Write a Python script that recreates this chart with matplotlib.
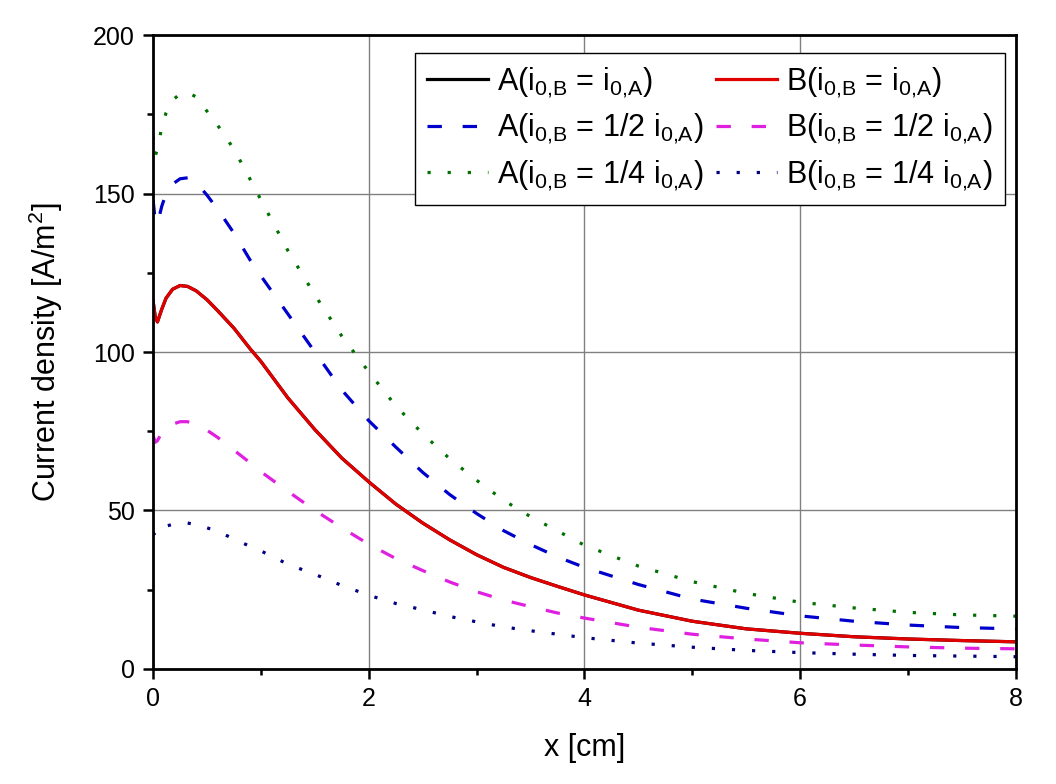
import matplotlib
matplotlib.use("Agg")
import matplotlib.pyplot as plt
from matplotlib.ticker import MultipleLocator

plt.rcParams["font.family"] = ["Liberation Sans", "DejaVu Sans"]
plt.rcParams["mathtext.fontset"] = "custom"
plt.rcParams["mathtext.rm"] = "Liberation Sans"
plt.rcParams["mathtext.it"] = "Liberation Sans"
plt.rcParams["mathtext.default"] = "regular"

# x positions [cm]
x = [0, 0.02, 0.04, 0.08, 0.12, 0.18, 0.25, 0.32, 0.4, 0.5, 0.6, 0.75, 0.9, 1.0,
     1.25, 1.5, 1.75, 2.0, 2.25, 2.5, 2.75, 3.0, 3.25, 3.5, 3.75, 4.0,
     4.5, 5.0, 5.5, 6.0, 6.5, 7.0, 7.5, 8.0]

# current density [A/m2]
b_equal = [116, 111, 109.5, 113.5, 117, 119.8, 121, 120.7, 119.3, 116.5, 113, 107.5, 101, 97,
           85.5, 75.5, 66.5, 59, 52, 46, 40.7, 36, 32, 28.8, 26, 23.3,
           18.5, 15, 12.6, 11.2, 10.1, 9.4, 8.9, 8.5]
a_equal = list(b_equal)  # hidden under the B curve in the original
a_half = [148, 141, 140.5, 146, 150, 153, 154.7, 155, 153.5, 149.5, 145, 137.5, 129, 124,
          112, 100, 88, 78.3, 70, 62, 55, 49, 43.6, 39.2, 35.3, 32,
          26.6, 22, 19.1, 16.7, 15, 13.8, 13, 12.6]
b_half = [73.5, 71.5, 72, 74.5, 76, 77.2, 78, 78, 77, 75.3, 73, 69, 65, 62.2,
          56, 50, 44.5, 39.3, 34.8, 31, 27.4, 24.3, 21.7, 19.6, 17.6, 16,
          13.1, 10.9, 9.4, 8.2, 7.5, 6.9, 6.5, 6.3]
a_quarter = [168, 162, 164, 171, 175.5, 179.5, 181.5, 182, 180.5, 176, 171.5, 164, 154.5, 148,
             132, 118, 105, 93.7, 83, 74.2, 66.3, 59.5, 53.2, 48, 43.5, 39,
             32.4, 27.5, 23.8, 21, 19.2, 17.8, 17, 16.6]
b_quarter = [43, 42, 42.5, 44, 45, 45.6, 46, 46, 45.5, 44.5, 43.3, 41, 38.6, 37.2,
             33, 29.8, 26.3, 23.2, 20.6, 18.6, 16.5, 14.8, 13.2, 12, 10.9, 9.8,
             8.1, 6.8, 5.8, 5.1, 4.6, 4.2, 4, 3.8]

labels = [
    r"A(i$_{0{,}B}$ = i$_{0{,}A}$)",
    r"B(i$_{0{,}B}$ = i$_{0{,}A}$)",
    r"A(i$_{0{,}B}$ = 1/2 i$_{0{,}A}$)",
    r"B(i$_{0{,}B}$ = 1/2 i$_{0{,}A}$)",
    r"A(i$_{0{,}B}$ = 1/4 i$_{0{,}A}$)",
    r"B(i$_{0{,}B}$ = 1/4 i$_{0{,}A}$)",
]

fig = plt.figure(figsize=(10.56, 7.84), dpi=100)
ax = fig.add_axes([0.145, 0.147, 0.817, 0.808])

lw = 2.3
dash = (0, (4.5, 6.5))
dot = (0, (1, 5.3))
h1, = ax.plot(x, a_equal, color="black", lw=lw, label=labels[0])
h2, = ax.plot(x, b_equal, color="#e00000", lw=lw, label=labels[1])
h3, = ax.plot(x, a_half, color="#0000cc", lw=lw, ls=dash, label=labels[2])
h4, = ax.plot(x, b_half, color="#e020e0", lw=lw, ls=dash, label=labels[3])
h5, = ax.plot(x, a_quarter, color="#007000", lw=lw, ls=dot, label=labels[4])
h6, = ax.plot(x, b_quarter, color="#000080", lw=lw, ls=dot, label=labels[5])

ax.set_xlim(0, 8)
ax.set_ylim(0, 200)
ax.xaxis.set_major_locator(MultipleLocator(2))
ax.xaxis.set_minor_locator(MultipleLocator(1))
ax.yaxis.set_major_locator(MultipleLocator(50))
ax.yaxis.set_minor_locator(MultipleLocator(25))
ax.grid(True, which="major", color="#808080", lw=1)
ax.set_axisbelow(True)

for s in ax.spines.values():
    s.set_linewidth(2)
ax.tick_params(which="major", direction="out", length=7, width=1.8, labelsize=18, pad=6)
ax.tick_params(which="minor", direction="out", length=4.5, width=1.8)

ax.set_xlabel("x [cm]", fontsize=22, labelpad=16)
ax.set_ylabel(r"Current density [A/m$^2$]", fontsize=22, labelpad=20)

# column-first order so rows read A, B
leg = ax.legend(handles=[h1, h3, h5, h2, h4, h6], ncol=2, loc="upper right",
                bbox_to_anchor=(0.987, 0.972), fontsize=22, frameon=True,
                fancybox=False, edgecolor="black", framealpha=1,
                handlelength=2.0, handletextpad=0.3, columnspacing=0.4,
                labelspacing=0.4, borderpad=0.4, borderaxespad=0)
leg.get_frame().set_linewidth(1)

fig.savefig("out.png", dpi=100)
